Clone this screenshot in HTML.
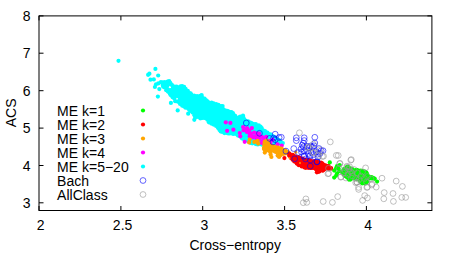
<!DOCTYPE html>
<html><head><meta charset="utf-8"><title>ACS vs Cross-entropy</title>
<style>html,body{margin:0;padding:0;background:#fff;overflow:hidden}svg{display:block}
text{font-family:"Liberation Sans",sans-serif}</style></head>
<body><svg width="457" height="255" viewBox="0 0 457 255">
<rect width="457" height="255" fill="#fff"/>
<g fill="#00ffff"><circle cx="177.5" cy="94.7" r="2.1"/><circle cx="180.0" cy="87.9" r="2.1"/><circle cx="169.8" cy="93.6" r="2.1"/><circle cx="258.8" cy="125.4" r="2.1"/><circle cx="264.3" cy="141.3" r="2.1"/><circle cx="220.0" cy="123.2" r="2.1"/><circle cx="182.9" cy="87.9" r="2.1"/><circle cx="178.2" cy="96.3" r="2.1"/><circle cx="261.8" cy="136.1" r="2.1"/><circle cx="196.3" cy="107.1" r="2.1"/><circle cx="183.9" cy="95.3" r="2.1"/><circle cx="207.3" cy="116.9" r="2.1"/><circle cx="225.0" cy="120.2" r="2.1"/><circle cx="210.1" cy="106.1" r="2.1"/><circle cx="187.8" cy="90.8" r="2.1"/><circle cx="193.1" cy="102.7" r="2.1"/><circle cx="265.4" cy="144.4" r="2.1"/><circle cx="219.0" cy="111.5" r="2.1"/><circle cx="172.9" cy="86.9" r="2.1"/><circle cx="194.2" cy="104.0" r="2.1"/><circle cx="227.1" cy="130.6" r="2.1"/><circle cx="260.8" cy="143.9" r="2.1"/><circle cx="265.8" cy="132.4" r="2.1"/><circle cx="261.7" cy="128.1" r="2.1"/><circle cx="189.2" cy="94.9" r="2.1"/><circle cx="186.4" cy="93.5" r="2.1"/><circle cx="241.6" cy="132.0" r="2.1"/><circle cx="177.9" cy="90.1" r="2.1"/><circle cx="205.0" cy="115.7" r="2.1"/><circle cx="193.1" cy="99.2" r="2.1"/><circle cx="194.0" cy="107.4" r="2.1"/><circle cx="205.4" cy="109.9" r="2.1"/><circle cx="223.3" cy="114.6" r="2.1"/><circle cx="202.0" cy="113.8" r="2.1"/><circle cx="229.8" cy="131.0" r="2.1"/><circle cx="230.6" cy="129.4" r="2.1"/><circle cx="224.6" cy="125.0" r="2.1"/><circle cx="217.3" cy="114.7" r="2.1"/><circle cx="247.2" cy="136.9" r="2.1"/><circle cx="257.5" cy="138.2" r="2.1"/><circle cx="269.5" cy="142.8" r="2.1"/><circle cx="210.8" cy="111.8" r="2.1"/><circle cx="186.3" cy="100.9" r="2.1"/><circle cx="258.0" cy="143.1" r="2.1"/><circle cx="231.7" cy="125.5" r="2.1"/><circle cx="239.4" cy="132.1" r="2.1"/><circle cx="175.8" cy="90.7" r="2.1"/><circle cx="200.3" cy="100.0" r="2.1"/><circle cx="248.2" cy="121.4" r="2.1"/><circle cx="211.6" cy="102.7" r="2.1"/><circle cx="198.0" cy="110.0" r="2.1"/><circle cx="200.0" cy="103.3" r="2.1"/><circle cx="220.0" cy="112.8" r="2.1"/><circle cx="167.6" cy="81.7" r="2.1"/><circle cx="233.5" cy="114.5" r="2.1"/><circle cx="249.3" cy="137.1" r="2.1"/><circle cx="251.4" cy="132.8" r="2.1"/><circle cx="260.0" cy="133.7" r="2.1"/><circle cx="245.3" cy="125.1" r="2.1"/><circle cx="230.2" cy="120.8" r="2.1"/><circle cx="238.4" cy="124.3" r="2.1"/><circle cx="259.2" cy="128.6" r="2.1"/><circle cx="252.2" cy="143.3" r="2.1"/><circle cx="180.4" cy="96.7" r="2.1"/><circle cx="225.1" cy="110.3" r="2.1"/><circle cx="261.9" cy="142.8" r="2.1"/><circle cx="179.6" cy="102.5" r="2.1"/><circle cx="207.6" cy="105.7" r="2.1"/><circle cx="206.2" cy="107.9" r="2.1"/><circle cx="192.7" cy="97.5" r="2.1"/><circle cx="182.8" cy="90.7" r="2.1"/><circle cx="212.7" cy="114.2" r="2.1"/><circle cx="208.2" cy="102.1" r="2.1"/><circle cx="223.5" cy="121.0" r="2.1"/><circle cx="195.4" cy="96.3" r="2.1"/><circle cx="211.0" cy="109.1" r="2.1"/><circle cx="241.0" cy="129.7" r="2.1"/><circle cx="239.6" cy="125.4" r="2.1"/><circle cx="226.1" cy="117.9" r="2.1"/><circle cx="191.0" cy="96.2" r="2.1"/><circle cx="222.9" cy="123.9" r="2.1"/><circle cx="203.5" cy="107.5" r="2.1"/><circle cx="189.6" cy="107.2" r="2.1"/><circle cx="271.3" cy="137.4" r="2.1"/><circle cx="196.4" cy="103.0" r="2.1"/><circle cx="185.9" cy="103.8" r="2.1"/><circle cx="166.8" cy="84.3" r="2.1"/><circle cx="253.1" cy="138.3" r="2.1"/><circle cx="200.9" cy="98.1" r="2.1"/><circle cx="278.4" cy="141.9" r="2.1"/><circle cx="214.6" cy="112.2" r="2.1"/><circle cx="262.2" cy="130.2" r="2.1"/><circle cx="253.2" cy="135.0" r="2.1"/><circle cx="264.4" cy="139.4" r="2.1"/><circle cx="177.0" cy="92.5" r="2.1"/><circle cx="234.8" cy="120.3" r="2.1"/><circle cx="188.9" cy="104.1" r="2.1"/><circle cx="179.7" cy="93.5" r="2.1"/><circle cx="210.4" cy="115.8" r="2.1"/><circle cx="200.4" cy="116.9" r="2.1"/><circle cx="207.5" cy="112.9" r="2.1"/><circle cx="180.2" cy="98.6" r="2.1"/><circle cx="276.8" cy="143.3" r="2.1"/><circle cx="250.4" cy="138.3" r="2.1"/><circle cx="235.2" cy="115.8" r="2.1"/><circle cx="213.4" cy="117.9" r="2.1"/><circle cx="214.1" cy="122.9" r="2.1"/><circle cx="216.7" cy="108.6" r="2.1"/><circle cx="255.0" cy="130.7" r="2.1"/><circle cx="251.4" cy="130.5" r="2.1"/><circle cx="258.0" cy="140.4" r="2.1"/><circle cx="187.8" cy="97.3" r="2.1"/><circle cx="244.9" cy="138.1" r="2.1"/><circle cx="233.5" cy="123.2" r="2.1"/><circle cx="257.4" cy="126.5" r="2.1"/><circle cx="246.7" cy="134.9" r="2.1"/><circle cx="194.1" cy="95.5" r="2.1"/><circle cx="252.7" cy="141.3" r="2.1"/><circle cx="166.0" cy="83.0" r="2.1"/><circle cx="246.4" cy="121.2" r="2.1"/><circle cx="247.0" cy="127.9" r="2.1"/><circle cx="261.8" cy="137.9" r="2.1"/><circle cx="273.3" cy="141.3" r="2.1"/><circle cx="175.5" cy="93.6" r="2.1"/><circle cx="239.4" cy="133.6" r="2.1"/><circle cx="174.6" cy="86.6" r="2.1"/><circle cx="201.2" cy="107.7" r="2.1"/><circle cx="207.1" cy="101.0" r="2.1"/><circle cx="254.9" cy="143.5" r="2.1"/><circle cx="222.1" cy="131.8" r="2.1"/><circle cx="247.0" cy="131.1" r="2.1"/><circle cx="190.8" cy="110.1" r="2.1"/><circle cx="226.9" cy="129.0" r="2.1"/><circle cx="204.8" cy="101.4" r="2.1"/><circle cx="242.7" cy="128.2" r="2.1"/><circle cx="181.3" cy="90.4" r="2.1"/><circle cx="192.5" cy="101.4" r="2.1"/><circle cx="232.1" cy="128.7" r="2.1"/><circle cx="256.3" cy="125.5" r="2.1"/><circle cx="213.9" cy="109.7" r="2.1"/><circle cx="228.1" cy="126.6" r="2.1"/><circle cx="219.4" cy="116.6" r="2.1"/><circle cx="261.7" cy="133.0" r="2.1"/><circle cx="199.1" cy="111.3" r="2.1"/><circle cx="214.5" cy="121.5" r="2.1"/><circle cx="174.8" cy="89.5" r="2.1"/><circle cx="236.2" cy="130.8" r="2.1"/><circle cx="258.0" cy="134.5" r="2.1"/><circle cx="222.1" cy="112.5" r="2.1"/><circle cx="243.1" cy="134.6" r="2.1"/><circle cx="208.0" cy="107.3" r="2.1"/><circle cx="239.7" cy="121.4" r="2.1"/><circle cx="245.2" cy="140.5" r="2.1"/><circle cx="224.4" cy="111.6" r="2.1"/><circle cx="206.9" cy="110.9" r="2.1"/><circle cx="188.1" cy="108.4" r="2.1"/><circle cx="213.7" cy="116.1" r="2.1"/><circle cx="202.6" cy="100.8" r="2.1"/><circle cx="237.2" cy="120.8" r="2.1"/><circle cx="256.4" cy="139.3" r="2.1"/><circle cx="199.1" cy="107.5" r="2.1"/><circle cx="249.0" cy="135.6" r="2.1"/><circle cx="215.7" cy="124.0" r="2.1"/><circle cx="247.7" cy="133.7" r="2.1"/><circle cx="236.1" cy="124.1" r="2.1"/><circle cx="220.3" cy="118.4" r="2.1"/><circle cx="211.3" cy="113.7" r="2.1"/><circle cx="186.9" cy="92.0" r="2.1"/><circle cx="271.9" cy="138.7" r="2.1"/><circle cx="234.2" cy="129.3" r="2.1"/><circle cx="267.5" cy="137.7" r="2.1"/><circle cx="181.4" cy="97.8" r="2.1"/><circle cx="236.7" cy="126.0" r="2.1"/><circle cx="264.5" cy="136.1" r="2.1"/><circle cx="207.5" cy="118.7" r="2.1"/><circle cx="224.7" cy="114.6" r="2.1"/><circle cx="166.2" cy="86.5" r="2.1"/><circle cx="262.6" cy="140.9" r="2.1"/><circle cx="209.6" cy="107.5" r="2.1"/><circle cx="260.0" cy="139.3" r="2.1"/><circle cx="195.1" cy="110.4" r="2.1"/><circle cx="231.6" cy="122.3" r="2.1"/><circle cx="200.2" cy="95.9" r="2.1"/><circle cx="209.0" cy="118.1" r="2.1"/><circle cx="230.0" cy="112.0" r="2.1"/><circle cx="181.3" cy="102.1" r="2.1"/><circle cx="252.0" cy="128.3" r="2.1"/><circle cx="257.5" cy="136.7" r="2.1"/><circle cx="217.3" cy="109.9" r="2.1"/><circle cx="223.1" cy="109.0" r="2.1"/><circle cx="184.9" cy="99.9" r="2.1"/><circle cx="264.7" cy="134.4" r="2.1"/><circle cx="215.9" cy="120.6" r="2.1"/><circle cx="226.8" cy="133.0" r="2.1"/><circle cx="183.2" cy="100.8" r="2.1"/><circle cx="185.3" cy="92.1" r="2.1"/><circle cx="238.9" cy="119.3" r="2.1"/><circle cx="222.9" cy="116.0" r="2.1"/><circle cx="236.8" cy="132.4" r="2.1"/><circle cx="183.1" cy="97.5" r="2.1"/><circle cx="217.0" cy="105.2" r="2.1"/><circle cx="192.0" cy="105.5" r="2.1"/><circle cx="185.7" cy="98.6" r="2.1"/><circle cx="269.5" cy="135.9" r="2.1"/><circle cx="212.5" cy="122.9" r="2.1"/><circle cx="251.5" cy="126.3" r="2.1"/><circle cx="182.2" cy="93.1" r="2.1"/><circle cx="199.3" cy="104.9" r="2.1"/><circle cx="263.6" cy="130.5" r="2.1"/><circle cx="248.2" cy="123.6" r="2.1"/><circle cx="229.0" cy="129.4" r="2.1"/><circle cx="255.4" cy="134.0" r="2.1"/><circle cx="201.8" cy="110.6" r="2.1"/><circle cx="181.6" cy="99.6" r="2.1"/><circle cx="267.4" cy="143.2" r="2.1"/><circle cx="244.5" cy="119.6" r="2.1"/><circle cx="188.4" cy="99.7" r="2.1"/><circle cx="273.7" cy="136.5" r="2.1"/><circle cx="245.0" cy="133.6" r="2.1"/><circle cx="229.0" cy="132.2" r="2.1"/><circle cx="246.1" cy="132.5" r="2.1"/><circle cx="183.1" cy="103.6" r="2.1"/><circle cx="209.5" cy="103.1" r="2.1"/><circle cx="168.0" cy="89.7" r="2.1"/><circle cx="195.7" cy="112.6" r="2.1"/><circle cx="172.2" cy="91.8" r="2.1"/><circle cx="260.6" cy="136.9" r="2.1"/><circle cx="203.1" cy="112.2" r="2.1"/><circle cx="227.8" cy="118.3" r="2.1"/><circle cx="229.8" cy="122.8" r="2.1"/><circle cx="248.7" cy="129.6" r="2.1"/><circle cx="180.6" cy="91.8" r="2.1"/><circle cx="251.9" cy="139.8" r="2.1"/><circle cx="190.6" cy="93.4" r="2.1"/><circle cx="253.6" cy="133.4" r="2.1"/><circle cx="174.4" cy="91.2" r="2.1"/><circle cx="205.4" cy="112.4" r="2.1"/><circle cx="212.0" cy="116.2" r="2.1"/><circle cx="228.4" cy="115.7" r="2.1"/><circle cx="219.9" cy="126.9" r="2.1"/><circle cx="218.3" cy="121.7" r="2.1"/><circle cx="169.5" cy="91.8" r="2.1"/><circle cx="239.6" cy="135.8" r="2.1"/><circle cx="216.2" cy="104.0" r="2.1"/><circle cx="226.2" cy="112.4" r="2.1"/><circle cx="244.2" cy="123.9" r="2.1"/><circle cx="259.4" cy="143.6" r="2.1"/><circle cx="173.3" cy="89.3" r="2.1"/><circle cx="202.9" cy="109.3" r="2.1"/><circle cx="205.3" cy="104.5" r="2.1"/><circle cx="180.6" cy="86.4" r="2.1"/><circle cx="186.5" cy="106.4" r="2.1"/><circle cx="234.7" cy="130.9" r="2.1"/><circle cx="265.0" cy="131.1" r="2.1"/><circle cx="263.4" cy="132.1" r="2.1"/><circle cx="241.6" cy="134.3" r="2.1"/><circle cx="164.5" cy="87.4" r="2.1"/><circle cx="225.8" cy="124.0" r="2.1"/><circle cx="232.2" cy="133.6" r="2.1"/><circle cx="239.7" cy="130.6" r="2.1"/><circle cx="253.8" cy="124.1" r="2.1"/><circle cx="203.9" cy="105.7" r="2.1"/><circle cx="227.0" cy="114.0" r="2.1"/><circle cx="243.4" cy="117.6" r="2.1"/><circle cx="241.1" cy="137.1" r="2.1"/><circle cx="235.6" cy="133.5" r="2.1"/><circle cx="202.6" cy="117.0" r="2.1"/><circle cx="238.9" cy="127.1" r="2.1"/><circle cx="224.6" cy="118.3" r="2.1"/><circle cx="217.5" cy="124.4" r="2.1"/><circle cx="277.4" cy="139.7" r="2.1"/><circle cx="250.1" cy="126.8" r="2.1"/><circle cx="167.9" cy="91.6" r="2.1"/><circle cx="178.1" cy="87.3" r="2.1"/><circle cx="248.6" cy="141.4" r="2.1"/><circle cx="221.2" cy="121.6" r="2.1"/><circle cx="217.8" cy="118.1" r="2.1"/><circle cx="219.6" cy="106.1" r="2.1"/><circle cx="244.1" cy="126.4" r="2.1"/><circle cx="190.3" cy="105.6" r="2.1"/><circle cx="270.3" cy="139.5" r="2.1"/><circle cx="229.9" cy="133.4" r="2.1"/><circle cx="251.0" cy="135.2" r="2.1"/><circle cx="211.9" cy="119.8" r="2.1"/><circle cx="245.0" cy="135.2" r="2.1"/><circle cx="216.1" cy="125.9" r="2.1"/><circle cx="263.9" cy="144.5" r="2.1"/><circle cx="207.0" cy="115.0" r="2.1"/><circle cx="226.9" cy="122.3" r="2.1"/><circle cx="173.4" cy="94.0" r="2.1"/><circle cx="235.0" cy="125.2" r="2.1"/><circle cx="184.1" cy="86.8" r="2.1"/><circle cx="241.6" cy="117.1" r="2.1"/><circle cx="197.1" cy="104.9" r="2.1"/><circle cx="218.3" cy="126.3" r="2.1"/><circle cx="173.9" cy="87.9" r="2.1"/><circle cx="190.5" cy="108.7" r="2.1"/><circle cx="171.2" cy="94.7" r="2.1"/><circle cx="235.8" cy="122.4" r="2.1"/><circle cx="193.8" cy="109.6" r="2.1"/><circle cx="197.6" cy="99.0" r="2.1"/><circle cx="176.7" cy="96.0" r="2.1"/><circle cx="191.2" cy="104.0" r="2.1"/><circle cx="244.0" cy="131.9" r="2.1"/><circle cx="242.9" cy="129.8" r="2.1"/><circle cx="211.7" cy="107.5" r="2.1"/><circle cx="199.0" cy="96.8" r="2.1"/><circle cx="182.2" cy="86.2" r="2.1"/><circle cx="259.1" cy="132.1" r="2.1"/><circle cx="181.6" cy="94.9" r="2.1"/><circle cx="207.6" cy="109.2" r="2.1"/><circle cx="274.9" cy="140.6" r="2.1"/><circle cx="212.3" cy="121.4" r="2.1"/><circle cx="250.7" cy="129.1" r="2.1"/><circle cx="244.5" cy="122.4" r="2.1"/><circle cx="188.5" cy="102.3" r="2.1"/><circle cx="259.7" cy="141.9" r="2.1"/><circle cx="233.7" cy="133.9" r="2.1"/><circle cx="269.5" cy="144.4" r="2.1"/><circle cx="215.1" cy="104.9" r="2.1"/><circle cx="254.6" cy="136.4" r="2.1"/><circle cx="271.6" cy="142.0" r="2.1"/><circle cx="248.8" cy="126.2" r="2.1"/><circle cx="200.8" cy="112.9" r="2.1"/><circle cx="180.1" cy="103.9" r="2.1"/><circle cx="209.4" cy="119.6" r="2.1"/><circle cx="184.3" cy="90.1" r="2.1"/><circle cx="231.6" cy="127.3" r="2.1"/><circle cx="260.5" cy="129.3" r="2.1"/><circle cx="278.8" cy="143.7" r="2.1"/><circle cx="233.8" cy="132.0" r="2.1"/><circle cx="232.1" cy="116.5" r="2.1"/><circle cx="164.4" cy="84.0" r="2.1"/><circle cx="217.4" cy="112.8" r="2.1"/><circle cx="199.5" cy="101.2" r="2.1"/><circle cx="233.2" cy="127.0" r="2.1"/><circle cx="197.7" cy="106.3" r="2.1"/><circle cx="205.9" cy="100.1" r="2.1"/><circle cx="241.8" cy="124.0" r="2.1"/><circle cx="215.8" cy="107.5" r="2.1"/><circle cx="265.7" cy="137.8" r="2.1"/><circle cx="233.5" cy="117.4" r="2.1"/><circle cx="221.1" cy="120.1" r="2.1"/><circle cx="252.8" cy="136.9" r="2.1"/><circle cx="223.9" cy="131.1" r="2.1"/><circle cx="229.4" cy="119.1" r="2.1"/><circle cx="229.3" cy="127.6" r="2.1"/><circle cx="184.1" cy="106.5" r="2.1"/><circle cx="276.2" cy="138.3" r="2.1"/><circle cx="223.6" cy="126.8" r="2.1"/><circle cx="231.5" cy="113.6" r="2.1"/><circle cx="194.7" cy="106.1" r="2.1"/><circle cx="232.0" cy="130.6" r="2.1"/><circle cx="191.4" cy="100.0" r="2.1"/><circle cx="202.7" cy="115.4" r="2.1"/><circle cx="250.6" cy="142.9" r="2.1"/><circle cx="226.6" cy="119.4" r="2.1"/><circle cx="256.3" cy="140.7" r="2.1"/><circle cx="242.9" cy="136.7" r="2.1"/><circle cx="249.1" cy="131.0" r="2.1"/><circle cx="227.0" cy="125.5" r="2.1"/><circle cx="217.0" cy="116.9" r="2.1"/><circle cx="199.5" cy="114.3" r="2.1"/><circle cx="274.7" cy="137.6" r="2.1"/><circle cx="256.3" cy="128.7" r="2.1"/><circle cx="280.6" cy="141.5" r="2.1"/><circle cx="225.0" cy="116.6" r="2.1"/><circle cx="222.4" cy="129.2" r="2.1"/><circle cx="214.1" cy="107.5" r="2.1"/><circle cx="268.4" cy="141.0" r="2.1"/><circle cx="270.7" cy="134.3" r="2.1"/><circle cx="267.2" cy="135.7" r="2.1"/><circle cx="190.3" cy="102.4" r="2.1"/><circle cx="166.7" cy="88.3" r="2.1"/><circle cx="196.7" cy="97.9" r="2.1"/><circle cx="238.8" cy="122.7" r="2.1"/><circle cx="267.2" cy="139.8" r="2.1"/><circle cx="259.0" cy="137.2" r="2.1"/><circle cx="224.7" cy="128.5" r="2.1"/><circle cx="251.6" cy="124.8" r="2.1"/><circle cx="219.8" cy="124.6" r="2.1"/><circle cx="162.7" cy="84.9" r="2.1"/><circle cx="273.9" cy="139.6" r="2.1"/><circle cx="203.8" cy="102.8" r="2.1"/><circle cx="260.6" cy="131.3" r="2.1"/><circle cx="256.0" cy="132.1" r="2.1"/><circle cx="201.9" cy="102.4" r="2.1"/><circle cx="231.1" cy="119.1" r="2.1"/><circle cx="221.8" cy="107.9" r="2.1"/><circle cx="219.5" cy="114.7" r="2.1"/><circle cx="240.3" cy="118.7" r="2.1"/><circle cx="209.6" cy="109.4" r="2.1"/><circle cx="238.2" cy="135.7" r="2.1"/><circle cx="196.6" cy="110.3" r="2.1"/><circle cx="242.1" cy="122.0" r="2.1"/><circle cx="184.2" cy="102.1" r="2.1"/><circle cx="196.1" cy="114.2" r="2.1"/><circle cx="185.6" cy="88.9" r="2.1"/><circle cx="249.6" cy="122.4" r="2.1"/><circle cx="214.5" cy="119.6" r="2.1"/><circle cx="204.6" cy="98.7" r="2.1"/><circle cx="241.7" cy="119.9" r="2.1"/><circle cx="197.4" cy="115.5" r="2.1"/><circle cx="252.7" cy="129.7" r="2.1"/><circle cx="189.2" cy="93.0" r="2.1"/><circle cx="187.5" cy="95.3" r="2.1"/><circle cx="253.3" cy="131.6" r="2.1"/><circle cx="200.8" cy="115.3" r="2.1"/><circle cx="177.5" cy="101.6" r="2.1"/><circle cx="186.8" cy="102.3" r="2.1"/><circle cx="249.6" cy="124.5" r="2.1"/><circle cx="225.4" cy="122.3" r="2.1"/><circle cx="225.0" cy="130.0" r="2.1"/><circle cx="232.9" cy="118.9" r="2.1"/><circle cx="215.4" cy="114.3" r="2.1"/><circle cx="237.0" cy="134.6" r="2.1"/><circle cx="205.2" cy="114.1" r="2.1"/><circle cx="215.4" cy="109.4" r="2.1"/><circle cx="245.5" cy="130.4" r="2.1"/><circle cx="208.3" cy="114.4" r="2.1"/><circle cx="195.2" cy="98.8" r="2.1"/><circle cx="269.6" cy="137.5" r="2.1"/><circle cx="189.1" cy="96.5" r="2.1"/><circle cx="205.8" cy="117.5" r="2.1"/><circle cx="232.8" cy="124.6" r="2.1"/><circle cx="268.9" cy="139.1" r="2.1"/><circle cx="179.1" cy="91.6" r="2.1"/><circle cx="169.1" cy="83.9" r="2.1"/><circle cx="183.2" cy="99.1" r="2.1"/><circle cx="268.1" cy="133.9" r="2.1"/><circle cx="169.1" cy="81.0" r="2.1"/><circle cx="246.3" cy="138.9" r="2.1"/><circle cx="248.8" cy="139.3" r="2.1"/><circle cx="189.6" cy="98.5" r="2.1"/><circle cx="232.1" cy="120.6" r="2.1"/><circle cx="247.4" cy="125.4" r="2.1"/><circle cx="254.8" cy="138.2" r="2.1"/><circle cx="255.0" cy="127.3" r="2.1"/><circle cx="185.7" cy="96.1" r="2.1"/><circle cx="193.9" cy="111.2" r="2.1"/><circle cx="261.6" cy="139.4" r="2.1"/><circle cx="188.4" cy="105.6" r="2.1"/><circle cx="175.5" cy="92.1" r="2.1"/><circle cx="236.4" cy="127.8" r="2.1"/><circle cx="242.4" cy="126.2" r="2.1"/><circle cx="208.9" cy="113.1" r="2.1"/><circle cx="221.8" cy="123.0" r="2.1"/><circle cx="219.8" cy="121.7" r="2.1"/><circle cx="197.5" cy="113.1" r="2.1"/><circle cx="200.1" cy="109.2" r="2.1"/><circle cx="163.1" cy="86.6" r="2.1"/><circle cx="215.1" cy="118.2" r="2.1"/><circle cx="190.8" cy="97.7" r="2.1"/><circle cx="174.1" cy="96.6" r="2.1"/><circle cx="237.6" cy="129.8" r="2.1"/><circle cx="250.1" cy="133.8" r="2.1"/><circle cx="221.2" cy="109.4" r="2.1"/><circle cx="229.2" cy="113.5" r="2.1"/><circle cx="263.6" cy="137.7" r="2.1"/><circle cx="229.6" cy="117.4" r="2.1"/><circle cx="185.5" cy="105.3" r="2.1"/><circle cx="221.2" cy="115.3" r="2.1"/><circle cx="176.9" cy="88.8" r="2.1"/><circle cx="223.1" cy="110.9" r="2.1"/><circle cx="218.5" cy="107.6" r="2.1"/><circle cx="239.3" cy="128.5" r="2.1"/><circle cx="219.2" cy="128.4" r="2.1"/><circle cx="226.4" cy="127.4" r="2.1"/><circle cx="224.4" cy="133.1" r="2.1"/><circle cx="221.7" cy="127.4" r="2.1"/><circle cx="257.3" cy="130.5" r="2.1"/><circle cx="253.5" cy="128.0" r="2.1"/><circle cx="254.6" cy="125.3" r="2.1"/><circle cx="237.7" cy="118.6" r="2.1"/><circle cx="211.7" cy="117.8" r="2.1"/><circle cx="211.7" cy="110.7" r="2.1"/><circle cx="172.5" cy="95.6" r="2.1"/><circle cx="202.7" cy="98.3" r="2.1"/><circle cx="209.0" cy="116.4" r="2.1"/><circle cx="185.2" cy="94.4" r="2.1"/><circle cx="224.5" cy="123.4" r="2.1"/><circle cx="170.6" cy="90.0" r="2.1"/><circle cx="221.5" cy="111.2" r="2.1"/><circle cx="202.0" cy="106.1" r="2.1"/><circle cx="236.3" cy="117.9" r="2.1"/><circle cx="230.1" cy="114.6" r="2.1"/><circle cx="176.6" cy="86.5" r="2.1"/><circle cx="179.8" cy="90.2" r="2.1"/><circle cx="240.0" cy="123.9" r="2.1"/><circle cx="170.1" cy="82.7" r="2.1"/><circle cx="221.8" cy="117.2" r="2.1"/><circle cx="212.7" cy="112.5" r="2.1"/><circle cx="253.8" cy="142.5" r="2.1"/><circle cx="256.1" cy="142.7" r="2.1"/><circle cx="192.3" cy="108.3" r="2.1"/><circle cx="186.3" cy="90.5" r="2.1"/><circle cx="205.5" cy="103.0" r="2.1"/><circle cx="172.1" cy="85.2" r="2.1"/><circle cx="205.3" cy="106.2" r="2.1"/><circle cx="210.2" cy="117.3" r="2.1"/><circle cx="221.5" cy="125.0" r="2.1"/><circle cx="197.2" cy="96.2" r="2.1"/><circle cx="196.9" cy="108.4" r="2.1"/><circle cx="204.0" cy="100.2" r="2.1"/><circle cx="255.0" cy="139.6" r="2.1"/><circle cx="215.8" cy="122.5" r="2.1"/><circle cx="195.4" cy="108.8" r="2.1"/><circle cx="217.8" cy="120.0" r="2.1"/><circle cx="189.9" cy="99.9" r="2.1"/><circle cx="207.1" cy="103.2" r="2.1"/><circle cx="239.0" cy="117.4" r="2.1"/><circle cx="221.9" cy="113.9" r="2.1"/><circle cx="221.0" cy="129.6" r="2.1"/><circle cx="276.5" cy="141.8" r="2.1"/><circle cx="204.8" cy="108.2" r="2.1"/><circle cx="247.3" cy="140.5" r="2.1"/><circle cx="197.6" cy="100.4" r="2.1"/><circle cx="245.7" cy="136.6" r="2.1"/><circle cx="217.9" cy="127.8" r="2.1"/><circle cx="209.2" cy="111.2" r="2.1"/><circle cx="228.0" cy="123.4" r="2.1"/><circle cx="202.1" cy="104.5" r="2.1"/><circle cx="250.2" cy="141.5" r="2.1"/><circle cx="231.0" cy="132.5" r="2.1"/><circle cx="259.1" cy="130.5" r="2.1"/><circle cx="271.6" cy="143.6" r="2.1"/><circle cx="204.3" cy="117.1" r="2.1"/><circle cx="218.9" cy="109.8" r="2.1"/><circle cx="265.8" cy="142.1" r="2.1"/><circle cx="215.1" cy="116.7" r="2.1"/><circle cx="175.2" cy="95.2" r="2.1"/><circle cx="215.8" cy="110.8" r="2.1"/><circle cx="212.1" cy="104.4" r="2.1"/><circle cx="228.5" cy="121.4" r="2.1"/><circle cx="245.6" cy="127.6" r="2.1"/><circle cx="196.3" cy="99.7" r="2.1"/><circle cx="182.2" cy="105.7" r="2.1"/><circle cx="256.2" cy="144.2" r="2.1"/><circle cx="252.3" cy="123.5" r="2.1"/><circle cx="260.5" cy="126.6" r="2.1"/><circle cx="240.9" cy="127.0" r="2.1"/><circle cx="252.9" cy="126.7" r="2.1"/><circle cx="181.2" cy="88.9" r="2.1"/><circle cx="267.4" cy="132.5" r="2.1"/><circle cx="242.0" cy="138.4" r="2.1"/><circle cx="210.3" cy="104.4" r="2.1"/><circle cx="227.1" cy="110.9" r="2.1"/><circle cx="230.1" cy="125.1" r="2.1"/><circle cx="198.3" cy="103.6" r="2.1"/><circle cx="203.7" cy="114.3" r="2.1"/><circle cx="244.8" cy="129.1" r="2.1"/><circle cx="213.0" cy="105.9" r="2.1"/><circle cx="275.3" cy="143.3" r="2.1"/><circle cx="195.5" cy="101.2" r="2.1"/><circle cx="230.7" cy="116.2" r="2.1"/><circle cx="274.0" cy="143.9" r="2.1"/><circle cx="248.7" cy="127.7" r="2.1"/><circle cx="241.1" cy="125.5" r="2.1"/><circle cx="165.4" cy="85.1" r="2.1"/><circle cx="282.8" cy="143.1" r="2.1"/><circle cx="219.7" cy="120.1" r="2.1"/><circle cx="246.8" cy="129.6" r="2.1"/><circle cx="200.5" cy="106.2" r="2.1"/><circle cx="213.6" cy="103.4" r="2.1"/><circle cx="223.2" cy="118.9" r="2.1"/><circle cx="179.1" cy="95.1" r="2.1"/><circle cx="187.9" cy="93.7" r="2.1"/><circle cx="250.1" cy="139.8" r="2.1"/><circle cx="228.4" cy="111.4" r="2.1"/><circle cx="237.3" cy="123.0" r="2.1"/><circle cx="193.8" cy="100.9" r="2.1"/><circle cx="234.9" cy="127.4" r="2.1"/><circle cx="197.5" cy="102.0" r="2.1"/><circle cx="228.1" cy="119.8" r="2.1"/><circle cx="225.3" cy="131.8" r="2.1"/><circle cx="263.2" cy="133.9" r="2.1"/><circle cx="267.9" cy="144.5" r="2.1"/><circle cx="191.0" cy="106.8" r="2.1"/><circle cx="218.4" cy="123.3" r="2.1"/><circle cx="199.2" cy="98.6" r="2.1"/><circle cx="253.5" cy="139.8" r="2.1"/><circle cx="243.2" cy="133.1" r="2.1"/><circle cx="192.8" cy="104.3" r="2.1"/><circle cx="235.8" cy="129.2" r="2.1"/><circle cx="183.6" cy="92.6" r="2.1"/><circle cx="198.9" cy="115.9" r="2.1"/><circle cx="192.6" cy="95.8" r="2.1"/><circle cx="195.6" cy="104.7" r="2.1"/><circle cx="210.9" cy="120.8" r="2.1"/><circle cx="212.6" cy="108.8" r="2.1"/><circle cx="243.9" cy="139.2" r="2.1"/><circle cx="208.6" cy="104.3" r="2.1"/><circle cx="265.6" cy="140.7" r="2.1"/><circle cx="220.1" cy="107.5" r="2.1"/><circle cx="251.3" cy="136.7" r="2.1"/><circle cx="187.8" cy="101.1" r="2.1"/><circle cx="174.1" cy="92.6" r="2.1"/><circle cx="179.6" cy="99.9" r="2.1"/><circle cx="257.7" cy="132.5" r="2.1"/><circle cx="259.1" cy="126.9" r="2.1"/><circle cx="260.9" cy="140.9" r="2.1"/><circle cx="232.9" cy="113.1" r="2.1"/><circle cx="187.0" cy="99.2" r="2.1"/><circle cx="226.2" cy="121.1" r="2.1"/><circle cx="226.8" cy="116.2" r="2.1"/><circle cx="219.5" cy="129.9" r="2.1"/><circle cx="272.9" cy="142.8" r="2.1"/><circle cx="210.9" cy="122.5" r="2.1"/><circle cx="231.5" cy="112.2" r="2.1"/><circle cx="204.4" cy="111.4" r="2.1"/><circle cx="263.4" cy="143.1" r="2.1"/><circle cx="279.0" cy="140.2" r="2.1"/><circle cx="201.6" cy="96.3" r="2.1"/><circle cx="250.3" cy="131.8" r="2.1"/><circle cx="261.5" cy="134.6" r="2.1"/><circle cx="246.5" cy="123.4" r="2.1"/><circle cx="171.7" cy="93.2" r="2.1"/><circle cx="272.2" cy="136.1" r="2.1"/><circle cx="254.4" cy="140.9" r="2.1"/><circle cx="181.6" cy="104.0" r="2.1"/><circle cx="251.0" cy="122.9" r="2.1"/><circle cx="189.1" cy="109.6" r="2.1"/><circle cx="216.4" cy="118.9" r="2.1"/><circle cx="260.2" cy="135.5" r="2.1"/><circle cx="170.9" cy="84.1" r="2.1"/><circle cx="281.3" cy="143.0" r="2.1"/><circle cx="256.6" cy="135.1" r="2.1"/><circle cx="225.3" cy="126.2" r="2.1"/><circle cx="187.3" cy="104.6" r="2.1"/><circle cx="213.6" cy="111.2" r="2.1"/><circle cx="228.5" cy="125.1" r="2.1"/><circle cx="270.5" cy="141.0" r="2.1"/><circle cx="224.3" cy="113.2" r="2.1"/><circle cx="272.0" cy="140.1" r="2.1"/><circle cx="240.3" cy="116.5" r="2.1"/><circle cx="182.0" cy="96.5" r="2.1"/><circle cx="184.8" cy="97.3" r="2.1"/><circle cx="217.9" cy="106.4" r="2.1"/><circle cx="243.6" cy="120.9" r="2.1"/><circle cx="254.6" cy="129.1" r="2.1"/><circle cx="249.0" cy="132.4" r="2.1"/><circle cx="201.0" cy="101.4" r="2.1"/><circle cx="214.9" cy="106.3" r="2.1"/><circle cx="191.3" cy="94.6" r="2.1"/><circle cx="255.9" cy="137.0" r="2.1"/><circle cx="231.5" cy="123.8" r="2.1"/><circle cx="257.6" cy="128.0" r="2.1"/><circle cx="214.1" cy="113.8" r="2.1"/><circle cx="243.0" cy="124.9" r="2.1"/><circle cx="236.1" cy="119.3" r="2.1"/><circle cx="255.8" cy="124.1" r="2.1"/><circle cx="252.2" cy="134.0" r="2.1"/><circle cx="266.7" cy="134.3" r="2.1"/><circle cx="185.5" cy="107.7" r="2.1"/><circle cx="192.5" cy="110.3" r="2.1"/><circle cx="227.6" cy="112.6" r="2.1"/><circle cx="211.6" cy="106.0" r="2.1"/><circle cx="262.0" cy="144.7" r="2.1"/><circle cx="175.6" cy="88.0" r="2.1"/><circle cx="256.9" cy="133.7" r="2.1"/><circle cx="234.4" cy="122.0" r="2.1"/><circle cx="234.7" cy="118.9" r="2.1"/><circle cx="184.1" cy="104.6" r="2.1"/><circle cx="194.2" cy="97.2" r="2.1"/><circle cx="197.6" cy="111.6" r="2.1"/><circle cx="237.9" cy="128.3" r="2.1"/><circle cx="242.8" cy="119.0" r="2.1"/><circle cx="247.8" cy="138.3" r="2.1"/><circle cx="220.2" cy="110.5" r="2.1"/><circle cx="210.8" cy="119.0" r="2.1"/><circle cx="263.2" cy="135.4" r="2.1"/><circle cx="182.6" cy="89.3" r="2.1"/><circle cx="180.8" cy="100.8" r="2.1"/><circle cx="218.5" cy="113.7" r="2.1"/><circle cx="218.4" cy="104.9" r="2.1"/><circle cx="238.3" cy="131.3" r="2.1"/><circle cx="223.3" cy="122.5" r="2.1"/><circle cx="223.4" cy="117.3" r="2.1"/><circle cx="201.3" cy="118.1" r="2.1"/><circle cx="194.8" cy="102.5" r="2.1"/><circle cx="167.4" cy="85.7" r="2.1"/><circle cx="238.1" cy="125.7" r="2.1"/><circle cx="273.4" cy="138.2" r="2.1"/><circle cx="178.9" cy="88.8" r="2.1"/><circle cx="228.2" cy="133.4" r="2.1"/><circle cx="221.8" cy="118.9" r="2.1"/><circle cx="257.8" cy="144.5" r="2.1"/><circle cx="187.9" cy="107.0" r="2.1"/><circle cx="192.7" cy="106.9" r="2.1"/><circle cx="172.1" cy="90.1" r="2.1"/><circle cx="221.1" cy="106.2" r="2.1"/><circle cx="209.9" cy="114.1" r="2.1"/><circle cx="232.0" cy="115.0" r="2.1"/><circle cx="220.7" cy="131.4" r="2.1"/><circle cx="200.6" cy="111.5" r="2.1"/><circle cx="234.9" cy="117.4" r="2.1"/><circle cx="118.5" cy="60.8" r="2.1"/><circle cx="155.4" cy="68.9" r="2.1"/><circle cx="149.4" cy="73.7" r="2.1"/><circle cx="148.1" cy="74.8" r="2.1"/><circle cx="158.2" cy="75.5" r="2.1"/><circle cx="150.5" cy="79.7" r="2.1"/><circle cx="153.8" cy="79.4" r="2.1"/><circle cx="160.9" cy="82.1" r="2.1"/><circle cx="156.0" cy="84.3" r="2.1"/><circle cx="154.9" cy="87.0" r="2.1"/><circle cx="159.3" cy="89.1" r="2.1"/><circle cx="157.9" cy="96.6" r="2.1"/><circle cx="170.9" cy="102.9" r="2.1"/><circle cx="177.7" cy="110.4" r="2.1"/><circle cx="188.2" cy="113.7" r="2.1"/><circle cx="194.3" cy="119.8" r="2.1"/><circle cx="158.3" cy="83.4" r="2.1"/><circle cx="162.8" cy="82.3" r="2.1"/><circle cx="164.8" cy="82.1" r="2.1"/><circle cx="170.6" cy="95.0" r="2.1"/><circle cx="172.6" cy="97.2" r="2.1"/><circle cx="174.3" cy="98.6" r="2.1"/><circle cx="175.2" cy="101.2" r="2.1"/><circle cx="166.2" cy="90.2" r="2.1"/><circle cx="190.3" cy="111.0" r="2.1"/><circle cx="192.6" cy="112.6" r="2.1"/><circle cx="194.4" cy="115.2" r="2.1"/><circle cx="195.2" cy="117.6" r="2.1"/><circle cx="197.5" cy="116.8" r="2.1"/><circle cx="200.2" cy="118.3" r="2.1"/><circle cx="203.0" cy="118.0" r="2.1"/><circle cx="205.5" cy="118.2" r="2.1"/><circle cx="207.4" cy="119.8" r="2.1"/><circle cx="208.9" cy="122.3" r="2.1"/><circle cx="211.3" cy="123.6" r="2.1"/><circle cx="213.6" cy="124.6" r="2.1"/><circle cx="222.6" cy="106.0" r="2.1"/><circle cx="243.0" cy="115.5" r="2.1"/><circle cx="201.6" cy="95.0" r="2.1"/></g>
<g fill="#ff00ff"><circle cx="225.8" cy="122.3" r="2.1"/><circle cx="230.4" cy="122.9" r="2.1"/><circle cx="227.1" cy="130.8" r="2.1"/><circle cx="233.4" cy="129.7" r="2.1"/><circle cx="239.8" cy="133" r="2.1"/><circle cx="240.3" cy="136.3" r="2.1"/><circle cx="243.1" cy="127" r="2.1"/><circle cx="243.6" cy="130.3" r="2.1"/><circle cx="246.9" cy="131.9" r="2.1"/><circle cx="251.9" cy="128.1" r="2.1"/><circle cx="251.3" cy="133.6" r="2.1"/><circle cx="254.1" cy="132.5" r="2.1"/><circle cx="256.3" cy="135.2" r="2.1"/><circle cx="244.7" cy="141.8" r="2.1"/><circle cx="261.8" cy="136.9" r="2.1"/><circle cx="264" cy="138" r="2.1"/><circle cx="266.2" cy="136.9" r="2.1"/><circle cx="261.8" cy="142.9" r="2.1"/><circle cx="249.7" cy="136.3" r="2.1"/><circle cx="253" cy="137.4" r="2.1"/><circle cx="247.3" cy="128.4" r="2.1"/><circle cx="249.2" cy="130.6" r="2.1"/><circle cx="256.5" cy="138.3" r="2.1"/><circle cx="258.7" cy="137.0" r="2.1"/><circle cx="259.2" cy="139.6" r="2.1"/><circle cx="263.2" cy="140.3" r="2.1"/><circle cx="272.5" cy="139.7" r="2.1"/><circle cx="277.6" cy="144.3" r="2.1"/><circle cx="281.8" cy="145.5" r="2.1"/><circle cx="269" cy="140.8" r="2.1"/><circle cx="270.5" cy="142.8" r="2.1"/><circle cx="256" cy="137" r="2.1"/><circle cx="246.2" cy="128.6" r="2.1"/><circle cx="249.5" cy="133.4" r="2.1"/><circle cx="259.3" cy="133.6" r="2.1"/><circle cx="257.6" cy="133.4" r="2.1"/><circle cx="258.2" cy="135.6" r="2.1"/><circle cx="252.2" cy="136.2" r="2.1"/></g>
<g fill="#ffa500"><circle cx="275.9" cy="147.4" r="2.1"/><circle cx="273.7" cy="150.8" r="2.1"/><circle cx="264.4" cy="145.3" r="2.1"/><circle cx="272.3" cy="148.4" r="2.1"/><circle cx="270.6" cy="149.4" r="2.1"/><circle cx="272.7" cy="146.2" r="2.1"/><circle cx="264.8" cy="141.7" r="2.1"/><circle cx="267.7" cy="144.5" r="2.1"/><circle cx="265.9" cy="145.1" r="2.1"/><circle cx="288.2" cy="152.3" r="2.1"/><circle cx="274.5" cy="149.3" r="2.1"/><circle cx="283.4" cy="150.6" r="2.1"/><circle cx="281.5" cy="152.6" r="2.1"/><circle cx="279.6" cy="150.4" r="2.1"/><circle cx="264.8" cy="149.4" r="2.1"/><circle cx="265.8" cy="143.6" r="2.1"/><circle cx="269.3" cy="148.1" r="2.1"/><circle cx="285.2" cy="150.3" r="2.1"/><circle cx="278.6" cy="151.6" r="2.1"/><circle cx="284.1" cy="152.3" r="2.1"/><circle cx="264.5" cy="143.1" r="2.1"/><circle cx="267.4" cy="148.3" r="2.1"/><circle cx="268.8" cy="146.2" r="2.1"/><circle cx="270.2" cy="146.9" r="2.1"/><circle cx="278.0" cy="147.7" r="2.1"/><circle cx="278.3" cy="150.0" r="2.1"/><circle cx="267.1" cy="143.3" r="2.1"/><circle cx="279.5" cy="148.4" r="2.1"/><circle cx="276.9" cy="149.8" r="2.1"/><circle cx="264.8" cy="146.7" r="2.1"/><circle cx="280.4" cy="151.7" r="2.1"/><circle cx="275.4" cy="151.8" r="2.1"/><circle cx="266.1" cy="148.7" r="2.1"/><circle cx="279.9" cy="152.9" r="2.1"/><circle cx="263.9" cy="148.1" r="2.1"/><circle cx="286.8" cy="151.8" r="2.1"/><circle cx="282.4" cy="149.6" r="2.1"/><circle cx="271.7" cy="150.5" r="2.1"/><circle cx="281.5" cy="148.5" r="2.1"/><circle cx="281.6" cy="150.8" r="2.1"/><circle cx="268.6" cy="149.7" r="2.1"/><circle cx="274.2" cy="146.6" r="2.1"/><circle cx="286.6" cy="153.2" r="2.1"/><circle cx="266.8" cy="146.7" r="2.1"/><circle cx="282.7" cy="151.8" r="2.1"/><circle cx="277.1" cy="152.2" r="2.1"/><circle cx="271.3" cy="146.1" r="2.1"/><circle cx="273.6" cy="147.8" r="2.1"/><circle cx="269.1" cy="144.8" r="2.1"/><circle cx="275.7" cy="148.7" r="2.1"/><circle cx="285.0" cy="153.5" r="2.1"/><circle cx="273.1" cy="149.6" r="2.1"/><circle cx="275.2" cy="150.5" r="2.1"/><circle cx="266.0" cy="142.3" r="2.1"/><circle cx="285.3" cy="151.8" r="2.1"/><circle cx="282.8" cy="153.1" r="2.1"/><circle cx="280.5" cy="149.3" r="2.1"/><circle cx="271.0" cy="148.0" r="2.1"/><circle cx="267.0" cy="149.7" r="2.1"/><circle cx="264.8" cy="152.6" r="2.1"/><circle cx="271.4" cy="157" r="2.1"/><circle cx="279.1" cy="157" r="2.1"/><circle cx="270.3" cy="152.1" r="2.1"/><circle cx="257.6" cy="140.8" r="2.1"/><circle cx="258.2" cy="143.6" r="2.1"/><circle cx="249.7" cy="139.6" r="2.1"/><circle cx="249.1" cy="142.4" r="2.1"/><circle cx="256.8" cy="141.5" r="2.1"/><circle cx="254.3" cy="141.9" r="2.1"/><circle cx="266.7" cy="140.7" r="2.1"/><circle cx="268.4" cy="142.4" r="2.1"/><circle cx="270.6" cy="154.4" r="2.1"/><circle cx="277.6" cy="155.6" r="2.1"/><circle cx="280.4" cy="155.2" r="2.1"/><circle cx="283.0" cy="154.0" r="2.1"/><circle cx="268.6" cy="150.6" r="2.1"/><circle cx="266.2" cy="150.4" r="2.1"/><circle cx="264.0" cy="149.0" r="2.1"/></g>
<g fill="#ff0000"><circle cx="320.5" cy="164.4" r="2.1"/><circle cx="298.4" cy="163.7" r="2.1"/><circle cx="311.4" cy="165.5" r="2.1"/><circle cx="301.3" cy="161.6" r="2.1"/><circle cx="319.3" cy="166.7" r="2.1"/><circle cx="322.2" cy="168.2" r="2.1"/><circle cx="311.9" cy="161.4" r="2.1"/><circle cx="298.9" cy="159.2" r="2.1"/><circle cx="313.5" cy="165.3" r="2.1"/><circle cx="319.2" cy="162.7" r="2.1"/><circle cx="292.6" cy="157.7" r="2.1"/><circle cx="316.8" cy="170.0" r="2.1"/><circle cx="326.6" cy="166.4" r="2.1"/><circle cx="296.8" cy="157.6" r="2.1"/><circle cx="300.7" cy="158.3" r="2.1"/><circle cx="318.7" cy="169.4" r="2.1"/><circle cx="298.9" cy="161.2" r="2.1"/><circle cx="307.8" cy="162.4" r="2.1"/><circle cx="327.5" cy="167.9" r="2.1"/><circle cx="316.7" cy="163.0" r="2.1"/><circle cx="323.2" cy="170.3" r="2.1"/><circle cx="306.9" cy="160.4" r="2.1"/><circle cx="321.9" cy="165.4" r="2.1"/><circle cx="323.8" cy="168.2" r="2.1"/><circle cx="304.1" cy="159.3" r="2.1"/><circle cx="295.8" cy="158.5" r="2.1"/><circle cx="308.1" cy="165.9" r="2.1"/><circle cx="290.2" cy="156.5" r="2.1"/><circle cx="305.6" cy="166.4" r="2.1"/><circle cx="325.1" cy="166.9" r="2.1"/><circle cx="309.9" cy="164.4" r="2.1"/><circle cx="289.1" cy="155.5" r="2.1"/><circle cx="309.2" cy="166.9" r="2.1"/><circle cx="311.7" cy="167.9" r="2.1"/><circle cx="325.4" cy="165.3" r="2.1"/><circle cx="301.7" cy="166.5" r="2.1"/><circle cx="295.4" cy="160.7" r="2.1"/><circle cx="317.5" cy="166.2" r="2.1"/><circle cx="313.7" cy="168.0" r="2.1"/><circle cx="305.1" cy="162.2" r="2.1"/><circle cx="320.2" cy="168.2" r="2.1"/><circle cx="300.1" cy="165.2" r="2.1"/><circle cx="294.0" cy="156.0" r="2.1"/><circle cx="303.7" cy="161.3" r="2.1"/><circle cx="297.7" cy="161.9" r="2.1"/><circle cx="316.8" cy="168.1" r="2.1"/><circle cx="308.0" cy="164.4" r="2.1"/><circle cx="322.2" cy="163.3" r="2.1"/><circle cx="305.1" cy="163.6" r="2.1"/><circle cx="302.0" cy="162.8" r="2.1"/><circle cx="306.5" cy="163.8" r="2.1"/><circle cx="316.2" cy="164.7" r="2.1"/><circle cx="314.8" cy="165.3" r="2.1"/><circle cx="290.9" cy="158.0" r="2.1"/><circle cx="307.2" cy="166.9" r="2.1"/><circle cx="303.8" cy="163.9" r="2.1"/><circle cx="310.1" cy="162.8" r="2.1"/><circle cx="315.0" cy="162.3" r="2.1"/><circle cx="295.3" cy="156.5" r="2.1"/><circle cx="296.9" cy="159.4" r="2.1"/><circle cx="308.2" cy="167.8" r="2.1"/><circle cx="290.5" cy="154.8" r="2.1"/><circle cx="323.2" cy="166.9" r="2.1"/><circle cx="296.2" cy="162.2" r="2.1"/><circle cx="310.1" cy="160.4" r="2.1"/><circle cx="311.6" cy="162.8" r="2.1"/><circle cx="323.5" cy="164.5" r="2.1"/><circle cx="313.9" cy="166.6" r="2.1"/><circle cx="292.4" cy="156.3" r="2.1"/><circle cx="317.7" cy="171.9" r="2.1"/><circle cx="300.8" cy="160.4" r="2.1"/><circle cx="303.2" cy="166.3" r="2.1"/><circle cx="320.5" cy="170.5" r="2.1"/><circle cx="318.7" cy="165.3" r="2.1"/><circle cx="313.4" cy="162.1" r="2.1"/><circle cx="292.6" cy="159.7" r="2.1"/><circle cx="315.7" cy="169.1" r="2.1"/><circle cx="302.2" cy="160.1" r="2.1"/><circle cx="314.2" cy="163.7" r="2.1"/><circle cx="315.8" cy="167.0" r="2.1"/><circle cx="292.8" cy="154.8" r="2.1"/><circle cx="324.7" cy="169.2" r="2.1"/><circle cx="294.3" cy="161.4" r="2.1"/><circle cx="304.4" cy="165.6" r="2.1"/><circle cx="305.4" cy="160.2" r="2.1"/><circle cx="293.9" cy="157.3" r="2.1"/><circle cx="309.0" cy="161.2" r="2.1"/><circle cx="294.4" cy="159.6" r="2.1"/><circle cx="321.9" cy="170.0" r="2.1"/><circle cx="310.7" cy="166.7" r="2.1"/><circle cx="302.2" cy="158.6" r="2.1"/><circle cx="312.6" cy="164.2" r="2.1"/><circle cx="328.6" cy="169.0" r="2.1"/><circle cx="299.4" cy="157.9" r="2.1"/><circle cx="299.1" cy="162.6" r="2.1"/><circle cx="328.1" cy="166.7" r="2.1"/><circle cx="302.1" cy="164.6" r="2.1"/><circle cx="304.5" cy="167.4" r="2.1"/><circle cx="305.7" cy="165.1" r="2.1"/><circle cx="289.5" cy="153.6" r="2.1"/><circle cx="317.2" cy="161.7" r="2.1"/><circle cx="326.0" cy="168.2" r="2.1"/><circle cx="308.3" cy="160.0" r="2.1"/><circle cx="329.8" cy="168.0" r="2.1"/><circle cx="318.1" cy="163.6" r="2.1"/><circle cx="321.7" cy="166.7" r="2.1"/><circle cx="300.1" cy="163.8" r="2.1"/><circle cx="319.3" cy="171.6" r="2.1"/><circle cx="305.8" cy="167.8" r="2.1"/><circle cx="298.2" cy="157.1" r="2.1"/><circle cx="318.4" cy="168.0" r="2.1"/><circle cx="320.6" cy="165.8" r="2.1"/><circle cx="324.0" cy="165.8" r="2.1"/><circle cx="306.5" cy="161.9" r="2.1"/><circle cx="297.0" cy="160.7" r="2.1"/><circle cx="331.0" cy="168.7" r="2.1"/><circle cx="321.0" cy="162.6" r="2.1"/><circle cx="312.3" cy="166.7" r="2.1"/><circle cx="298.6" cy="165.1" r="2.1"/><circle cx="318.1" cy="170.6" r="2.1"/><circle cx="296.8" cy="163.6" r="2.1"/><circle cx="308.8" cy="163.3" r="2.1"/><circle cx="310.2" cy="168.0" r="2.1"/><circle cx="314.4" cy="161.1" r="2.1"/><circle cx="311.2" cy="164.1" r="2.1"/><circle cx="303.3" cy="162.6" r="2.1"/><circle cx="284.4" cy="158.1" r="2.1"/><circle cx="316.9" cy="172.3" r="2.1"/><circle cx="322.6" cy="170.6" r="2.1"/><circle cx="319.5" cy="171.0" r="2.1"/><circle cx="328.5" cy="165.8" r="2.1"/><circle cx="331" cy="168" r="2.1"/></g>
<g fill="#ffa500"><circle cx="295.6" cy="152.2" r="1.6"/><circle cx="300" cy="163" r="0.9"/><circle cx="289.5" cy="158.1" r="0.9"/></g>
<g fill="#00ff00"><circle cx="353.4" cy="174.7" r="2.1"/><circle cx="355.0" cy="174.5" r="2.1"/><circle cx="349.8" cy="176.6" r="2.1"/><circle cx="343.9" cy="169.2" r="2.1"/><circle cx="363.6" cy="182.6" r="2.1"/><circle cx="372.3" cy="178.4" r="2.1"/><circle cx="363.8" cy="178.0" r="2.1"/><circle cx="358.1" cy="173.2" r="2.1"/><circle cx="365.7" cy="178.0" r="2.1"/><circle cx="354.7" cy="171.9" r="2.1"/><circle cx="365.8" cy="174.0" r="2.1"/><circle cx="344.9" cy="174.1" r="2.1"/><circle cx="350.5" cy="168.3" r="2.1"/><circle cx="361.8" cy="173.1" r="2.1"/><circle cx="345.2" cy="170.4" r="2.1"/><circle cx="356.0" cy="176.2" r="2.1"/><circle cx="358.7" cy="179.3" r="2.1"/><circle cx="357.3" cy="177.2" r="2.1"/><circle cx="346.8" cy="171.6" r="2.1"/><circle cx="367.0" cy="178.1" r="2.1"/><circle cx="348.0" cy="171.0" r="2.1"/><circle cx="363.9" cy="180.6" r="2.1"/><circle cx="348.9" cy="179.6" r="2.1"/><circle cx="365.0" cy="179.6" r="2.1"/><circle cx="350.4" cy="174.6" r="2.1"/><circle cx="350.5" cy="173.2" r="2.1"/><circle cx="363.2" cy="171.0" r="2.1"/><circle cx="364.5" cy="173.3" r="2.1"/><circle cx="360.4" cy="179.6" r="2.1"/><circle cx="356.6" cy="169.9" r="2.1"/><circle cx="356.6" cy="171.5" r="2.1"/><circle cx="350.3" cy="178.1" r="2.1"/><circle cx="351.0" cy="171.2" r="2.1"/><circle cx="365.1" cy="181.3" r="2.1"/><circle cx="348.7" cy="167.2" r="2.1"/><circle cx="348.9" cy="168.9" r="2.1"/><circle cx="346.8" cy="169.5" r="2.1"/><circle cx="348.8" cy="172.8" r="2.1"/><circle cx="357.1" cy="179.2" r="2.1"/><circle cx="346.4" cy="168.1" r="2.1"/><circle cx="352.4" cy="169.0" r="2.1"/><circle cx="368.7" cy="178.0" r="2.1"/><circle cx="353.6" cy="172.8" r="2.1"/><circle cx="360.9" cy="182.2" r="2.1"/><circle cx="359.7" cy="178.2" r="2.1"/><circle cx="359.4" cy="174.6" r="2.1"/><circle cx="346.9" cy="174.3" r="2.1"/><circle cx="345.2" cy="172.0" r="2.1"/><circle cx="349.6" cy="171.7" r="2.1"/><circle cx="361.2" cy="177.3" r="2.1"/><circle cx="345.6" cy="176.2" r="2.1"/><circle cx="364.1" cy="175.2" r="2.1"/><circle cx="367.4" cy="175.5" r="2.1"/><circle cx="359.7" cy="172.6" r="2.1"/><circle cx="343.5" cy="173.3" r="2.1"/><circle cx="354.1" cy="170.3" r="2.1"/><circle cx="373.7" cy="178.0" r="2.1"/><circle cx="360.5" cy="170.5" r="2.1"/><circle cx="353.4" cy="176.5" r="2.1"/><circle cx="360.1" cy="176.0" r="2.1"/><circle cx="362.4" cy="176.7" r="2.1"/><circle cx="352.3" cy="172.3" r="2.1"/><circle cx="368.2" cy="176.7" r="2.1"/><circle cx="354.5" cy="177.8" r="2.1"/><circle cx="356.7" cy="173.5" r="2.1"/><circle cx="358.7" cy="171.7" r="2.1"/><circle cx="357.1" cy="175.4" r="2.1"/><circle cx="366.1" cy="183.1" r="2.1"/><circle cx="355.9" cy="178.5" r="2.1"/><circle cx="348.2" cy="176.7" r="2.1"/><circle cx="351.9" cy="174.7" r="2.1"/><circle cx="361.0" cy="171.9" r="2.1"/><circle cx="346.2" cy="172.8" r="2.1"/><circle cx="362.2" cy="183.3" r="2.1"/><circle cx="348.6" cy="178.3" r="2.1"/><circle cx="360.6" cy="173.9" r="2.1"/><circle cx="358.7" cy="176.1" r="2.1"/><circle cx="357.9" cy="170.3" r="2.1"/><circle cx="348.4" cy="174.4" r="2.1"/><circle cx="366.4" cy="172.7" r="2.1"/><circle cx="362.2" cy="181.3" r="2.1"/><circle cx="360.2" cy="180.9" r="2.1"/><circle cx="344.2" cy="175.3" r="2.1"/><circle cx="367.7" cy="179.5" r="2.1"/><circle cx="343.1" cy="171.1" r="2.1"/><circle cx="349.6" cy="170.4" r="2.1"/><circle cx="364.7" cy="176.7" r="2.1"/><circle cx="365.1" cy="171.6" r="2.1"/><circle cx="367.2" cy="181.6" r="2.1"/><circle cx="370.3" cy="177.0" r="2.1"/><circle cx="366.5" cy="176.8" r="2.1"/><circle cx="362.1" cy="178.8" r="2.1"/><circle cx="366.4" cy="180.1" r="2.1"/><circle cx="351.7" cy="176.3" r="2.1"/><circle cx="363.1" cy="174.2" r="2.1"/><circle cx="347.0" cy="175.9" r="2.1"/><circle cx="352.2" cy="178.3" r="2.1"/><circle cx="363.1" cy="172.7" r="2.1"/><circle cx="362.3" cy="175.3" r="2.1"/><circle cx="350.8" cy="169.7" r="2.1"/><circle cx="347.0" cy="166.8" r="2.1"/><circle cx="370.9" cy="178.3" r="2.1"/><circle cx="352.6" cy="170.7" r="2.1"/><circle cx="345.4" cy="169.0" r="2.1"/><circle cx="364.6" cy="183.4" r="2.1"/><circle cx="350.4" cy="179.6" r="2.1"/><circle cx="347.0" cy="177.3" r="2.1"/><circle cx="342.2" cy="172.3" r="2.1"/><circle cx="374.8" cy="178.8" r="2.1"/><circle cx="365.5" cy="175.3" r="2.1"/><circle cx="367.1" cy="174.2" r="2.1"/><circle cx="355.2" cy="173.2" r="2.1"/><circle cx="362.7" cy="180.0" r="2.1"/><circle cx="355.5" cy="170.7" r="2.1"/><circle cx="354.6" cy="175.7" r="2.1"/><circle cx="371.7" cy="177.1" r="2.1"/><circle cx="347.7" cy="168.1" r="2.1"/><circle cx="347.5" cy="173.1" r="2.1"/><circle cx="358.4" cy="178.0" r="2.1"/><circle cx="361.8" cy="170.8" r="2.1"/><circle cx="329.8" cy="162.4" r="2.1"/><circle cx="377.1" cy="181.6" r="2.1"/><circle cx="334.2" cy="170.6" r="2.1"/><circle cx="334.2" cy="177.6" r="2.1"/><circle cx="337" cy="166.2" r="2.1"/><circle cx="339.7" cy="165.1" r="2.1"/><circle cx="337" cy="173.4" r="2.1"/><circle cx="339.2" cy="171.2" r="2.1"/><circle cx="336.2" cy="175.6" r="2.1"/><circle cx="338.6" cy="168.6" r="2.1"/><circle cx="336" cy="168.4" r="2.1"/></g>
<g fill="none" stroke="#0000ff" stroke-width="0.6"><circle cx="246.3" cy="123.0" r="2.9"/><circle cx="259.5" cy="133.3" r="2.9"/><circle cx="269.6" cy="138.4" r="2.9"/><circle cx="275.2" cy="134.2" r="2.9"/><circle cx="273.6" cy="138.1" r="2.9"/><circle cx="275.2" cy="139.7" r="2.9"/><circle cx="273.0" cy="141.9" r="2.9"/><circle cx="281.3" cy="137.3" r="2.9"/><circle cx="279.1" cy="137.5" r="2.9"/><circle cx="285.9" cy="151.1" r="2.9"/><circle cx="293.8" cy="148.6" r="2.9"/><circle cx="296.3" cy="137.8" r="2.9"/><circle cx="296.3" cy="140.6" r="2.9"/><circle cx="304.2" cy="137.8" r="2.9"/><circle cx="304.2" cy="140.6" r="2.9"/><circle cx="303.3" cy="143.2" r="2.9"/><circle cx="302.2" cy="145.2" r="2.9"/><circle cx="303.4" cy="146.8" r="2.9"/><circle cx="301.0" cy="149.1" r="2.9"/><circle cx="304.4" cy="150.9" r="2.9"/><circle cx="314.8" cy="137.3" r="2.9"/><circle cx="314.8" cy="143.0" r="2.9"/><circle cx="306.9" cy="146.3" r="2.9"/><circle cx="309.0" cy="147.6" r="2.9"/><circle cx="312.4" cy="146.9" r="2.9"/><circle cx="314.0" cy="145.8" r="2.9"/><circle cx="319.0" cy="148.5" r="2.9"/><circle cx="321.2" cy="150.7" r="2.9"/><circle cx="316.2" cy="151.8" r="2.9"/><circle cx="311.3" cy="152.4" r="2.9"/><circle cx="301.6" cy="152.2" r="2.9"/><circle cx="294.7" cy="158.8" r="2.9"/><circle cx="310.3" cy="166.1" r="2.9"/><circle cx="310.3" cy="160.1" r="2.9"/><circle cx="316.9" cy="161.7" r="2.9"/><circle cx="304.3" cy="155.7" r="2.9"/><circle cx="305.5" cy="159.0" r="2.9"/><circle cx="318.0" cy="157.0" r="2.9"/><circle cx="310.0" cy="156.0" r="2.9"/><circle cx="308.3" cy="153.5" r="2.9"/><circle cx="313.6" cy="154.5" r="2.9"/><circle cx="320.0" cy="153.5" r="2.9"/><circle cx="298.5" cy="152.5" r="2.9"/><circle cx="307.8" cy="150.6" r="2.9"/><circle cx="310.5" cy="146.0" r="2.9"/><circle cx="323.0" cy="150.7" r="2.9"/><circle cx="317.6" cy="154.2" r="2.9"/><circle cx="303.8" cy="156.4" r="2.9"/><circle cx="317.1" cy="161.9" r="2.9"/></g>
<g fill="none" stroke="#959595" stroke-width="0.6"><circle cx="299.4" cy="132.8" r="2.9"/><circle cx="330.3" cy="141.9" r="2.9"/><circle cx="308.0" cy="146.9" r="2.9"/><circle cx="313.5" cy="144.1" r="2.9"/><circle cx="313.5" cy="152.4" r="2.9"/><circle cx="320.0" cy="149.6" r="2.9"/><circle cx="336.3" cy="155.4" r="2.9"/><circle cx="338.2" cy="155.5" r="2.9"/><circle cx="350.8" cy="160.1" r="2.9"/><circle cx="323.5" cy="156.2" r="2.9"/><circle cx="327.9" cy="173.8" r="2.9"/><circle cx="328.5" cy="168.3" r="2.9"/><circle cx="318.6" cy="155.7" r="2.9"/><circle cx="322.4" cy="156.4" r="2.9"/><circle cx="340.0" cy="163.5" r="2.9"/><circle cx="347.1" cy="167.1" r="2.9"/><circle cx="341.0" cy="176.8" r="2.9"/><circle cx="356.9" cy="182.1" r="2.9"/><circle cx="358.6" cy="187.4" r="2.9"/><circle cx="351.3" cy="159.6" r="2.9"/><circle cx="339.7" cy="163.5" r="2.9"/><circle cx="346.9" cy="166.2" r="2.9"/><circle cx="349.6" cy="166.8" r="2.9"/><circle cx="365.6" cy="167.9" r="2.9"/><circle cx="328.7" cy="173.4" r="2.9"/><circle cx="340.8" cy="177.2" r="2.9"/><circle cx="355.7" cy="182.7" r="2.9"/><circle cx="372.2" cy="183.8" r="2.9"/><circle cx="382.0" cy="178.2" r="2.9"/><circle cx="396.2" cy="181.1" r="2.9"/><circle cx="402.4" cy="186.4" r="2.9"/><circle cx="384.2" cy="192.6" r="2.9"/><circle cx="393.0" cy="193.5" r="2.9"/><circle cx="401.8" cy="197.4" r="2.9"/><circle cx="405.7" cy="197.4" r="2.9"/><circle cx="383.8" cy="198.8" r="2.9"/><circle cx="393.4" cy="201.4" r="2.9"/><circle cx="358.6" cy="189.4" r="2.9"/><circle cx="367.4" cy="187.1" r="2.9"/><circle cx="371.8" cy="185.0" r="2.9"/><circle cx="376.2" cy="187.1" r="2.9"/><circle cx="364.7" cy="195.6" r="2.9"/><circle cx="367.4" cy="197.9" r="2.9"/><circle cx="362.6" cy="200.4" r="2.9"/><circle cx="305.9" cy="198.9" r="2.9"/><circle cx="303.3" cy="202.7" r="2.9"/><circle cx="306.8" cy="202.4" r="2.9"/><circle cx="323.2" cy="201.5" r="2.9"/><circle cx="332.4" cy="202.4" r="2.9"/><circle cx="337.7" cy="196.6" r="2.9"/><circle cx="366.9" cy="187.4" r="2.9"/><circle cx="357.1" cy="182.4" r="2.9"/><circle cx="308.3" cy="147.8" r="2.9"/><circle cx="313.3" cy="153.0" r="2.9"/><circle cx="345.0" cy="170.5" r="2.9"/><circle cx="350.5" cy="171.5" r="2.9"/><circle cx="354.0" cy="169.5" r="2.9"/><circle cx="348.0" cy="174.5" r="2.9"/><circle cx="352.5" cy="176.0" r="2.9"/><circle cx="357.5" cy="173.0" r="2.9"/><circle cx="361.0" cy="176.0" r="2.9"/><circle cx="359.0" cy="179.5" r="2.9"/><circle cx="364.5" cy="178.5" r="2.9"/><circle cx="367.5" cy="176.5" r="2.9"/><circle cx="371.0" cy="179.0" r="2.9"/><circle cx="343.5" cy="173.0" r="2.9"/><circle cx="339.0" cy="168.5" r="2.9"/><circle cx="362.5" cy="172.0" r="2.9"/><circle cx="355.5" cy="178.5" r="2.9"/><circle cx="346.0" cy="178.0" r="2.9"/><circle cx="366.5" cy="182.0" r="2.9"/><circle cx="352.0" cy="172.8" r="2.9"/><circle cx="349.0" cy="169.0" r="2.9"/></g>
<circle cx="143.0" cy="110.5" r="2.1" fill="#00ff00"/><circle cx="143.0" cy="124.5" r="2.1" fill="#ff0000"/><circle cx="143.0" cy="138.5" r="2.1" fill="#ffa500"/><circle cx="143.0" cy="152.5" r="2.1" fill="#ff00ff"/><circle cx="143.0" cy="166.5" r="2.1" fill="#00ffff"/><circle cx="143.0" cy="180.5" r="2.9" fill="none" stroke="#0000ff" stroke-width="0.6"/><circle cx="143.0" cy="194.5" r="2.9" fill="none" stroke="#959595" stroke-width="0.6"/>
<path d="M39.0 210.5V206.0M39.0 15.9V20.4M120.9 210.5V206.0M120.9 15.9V20.4M202.7 210.5V206.0M202.7 15.9V20.4M284.6 210.5V206.0M284.6 15.9V20.4M366.4 210.5V206.0M366.4 15.9V20.4M39.0 15.9H43.5M431.9 15.9H427.4M39.0 53.2H43.5M431.9 53.2H427.4M39.0 90.7H43.5M431.9 90.7H427.4M39.0 128.1H43.5M431.9 128.1H427.4M39.0 165.5H43.5M431.9 165.5H427.4M39.0 202.8H43.5M431.9 202.8H427.4" stroke="#000" stroke-width="1" fill="none"/>
<rect x="39.0" y="15.9" width="392.9" height="194.6" fill="none" stroke="#000" stroke-width="1"/>
<g font-family="Liberation Sans, sans-serif" font-size="14.0px" fill="#000"><text x="40.7" y="229.6" text-anchor="middle">2</text><text x="122.60000000000001" y="229.6" text-anchor="middle">2.5</text><text x="204.39999999999998" y="229.6" text-anchor="middle">3</text><text x="286.3" y="229.6" text-anchor="middle">3.5</text><text x="368.09999999999997" y="229.6" text-anchor="middle">4</text><text x="30.6" y="21.0" text-anchor="end">8</text><text x="30.6" y="58.300000000000004" text-anchor="end">7</text><text x="30.6" y="95.8" text-anchor="end">6</text><text x="30.6" y="133.2" text-anchor="end">5</text><text x="30.6" y="170.6" text-anchor="end">4</text><text x="30.6" y="207.9" text-anchor="end">3</text><text x="235.2" y="250.3" text-anchor="middle">Cross−entropy</text><text transform="translate(16.4 112.9) rotate(-90)" text-anchor="middle">ACS</text><text x="57.1" y="115.9">ME k=1</text><text x="57.1" y="129.9">ME k=2</text><text x="57.1" y="143.9">ME k=3</text><text x="57.1" y="157.9">ME k=4</text><text x="57.1" y="171.9">ME k=5−20</text><text x="57.1" y="185.9">Bach</text><text x="57.1" y="199.5">AllClass</text></g>
</svg></body></html>
